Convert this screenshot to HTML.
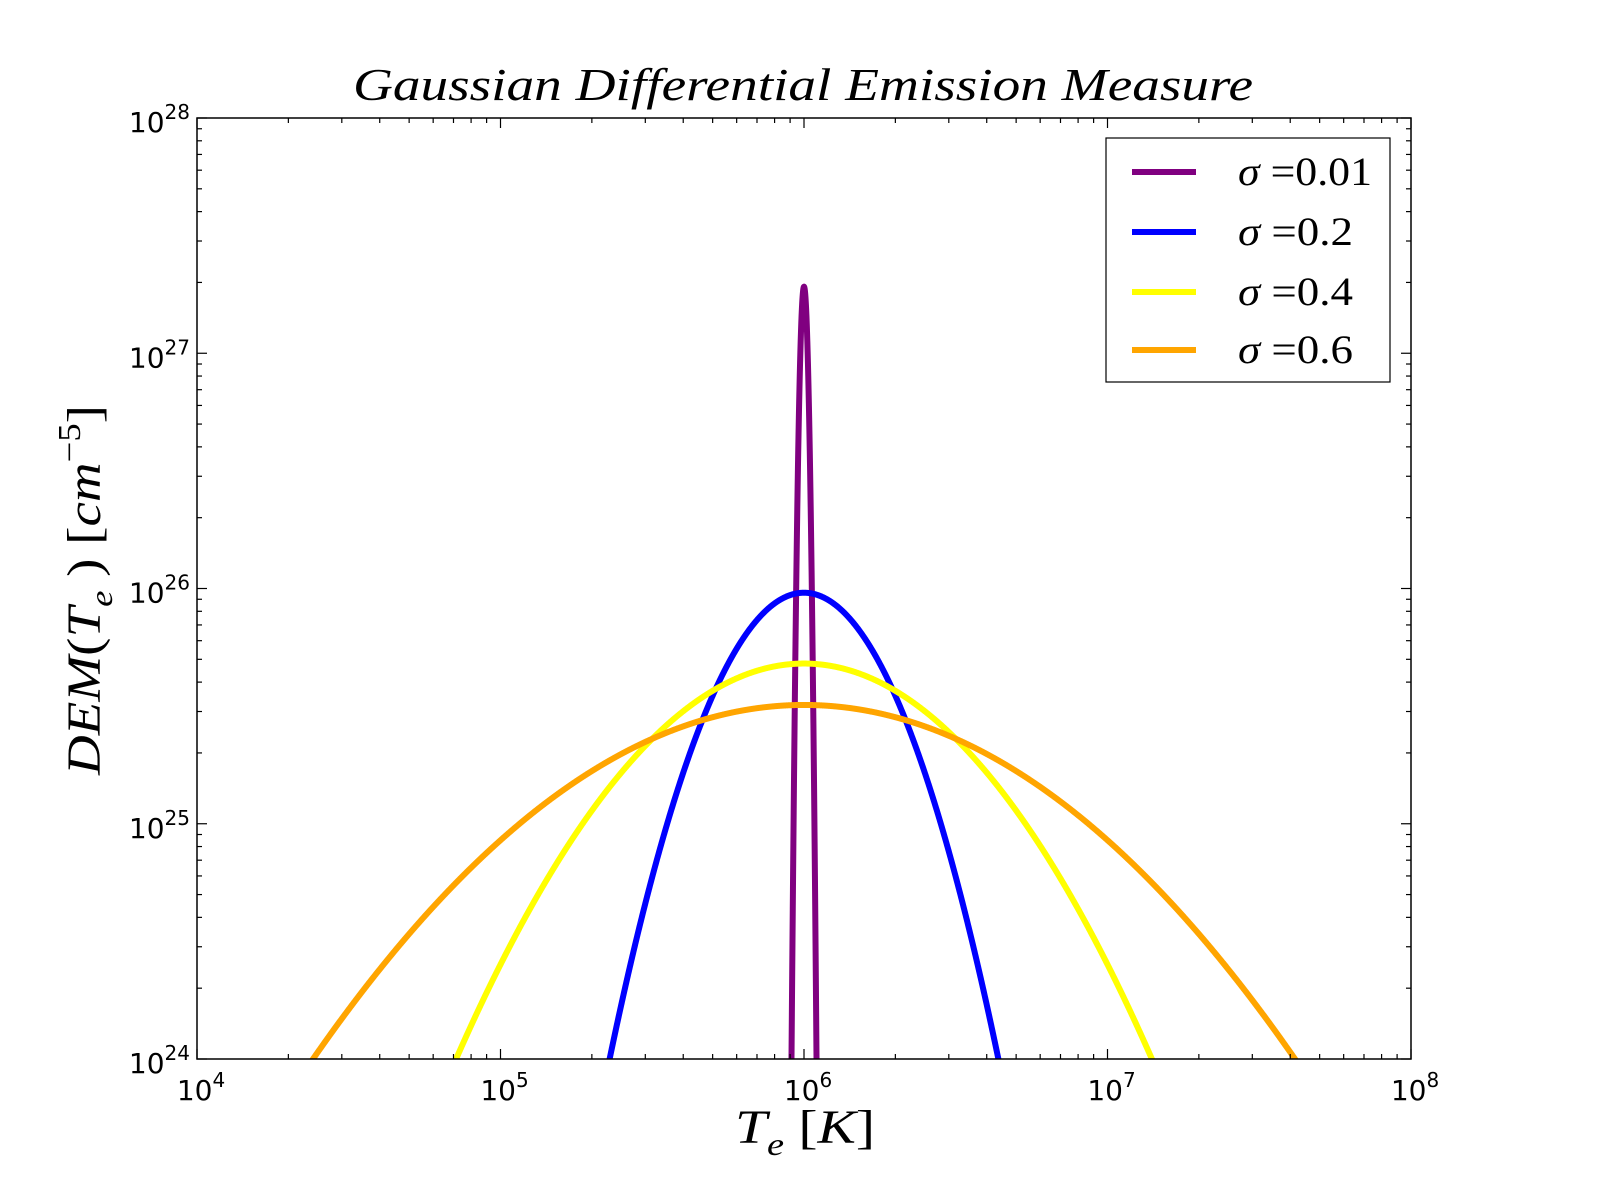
<!DOCTYPE html>
<html><head><meta charset="utf-8"><style>body{margin:0;background:#fff}svg{display:block}</style></head>
<body>
<svg id="s" xmlns="http://www.w3.org/2000/svg" width="1600" height="1201" viewBox="0 0 1600 1201">
<rect width="1600" height="1201" fill="#fff"/>
<defs><clipPath id="c"><rect x="197" y="118" width="1214" height="941"/></clipPath></defs>
<g id="curves" clip-path="url(#c)" fill="none" stroke-width="6" stroke-linejoin="round"></g>
<rect x="197" y="118" width="1214" height="941" fill="none" stroke="#000" stroke-width="1.5"/>
<g id="ticks" stroke="#000" stroke-width="1.2"></g>
<g font-family="DejaVu Sans, sans-serif" font-size="28" fill="#000" id="lab"></g>
<text x="353" y="100" textLength="900" lengthAdjust="spacingAndGlyphs" font-family="Liberation Serif, serif" font-style="italic" font-size="46">Gaussian Differential Emission Measure</text>
<text x="735" y="1143" textLength="140" lengthAdjust="spacingAndGlyphs" font-family="Liberation Serif, serif" font-size="48"><tspan font-style="italic">T</tspan><tspan font-style="italic" font-size="32" dy="12">e</tspan><tspan dy="-12">  [</tspan><tspan font-style="italic">K</tspan>]</text>
<text transform="translate(100,775) rotate(-90)" textLength="370" lengthAdjust="spacingAndGlyphs" font-family="Liberation Serif, serif" font-size="48"><tspan font-style="italic">DEM</tspan>(<tspan font-style="italic">T</tspan><tspan font-style="italic" font-size="32" dy="12">e</tspan><tspan dy="-12"> )  [</tspan><tspan font-style="italic">cm</tspan><tspan font-size="32" dy="-20">−5</tspan><tspan dy="20">]</tspan></text>
<rect x="1106" y="138" width="284" height="244" fill="#fff" stroke="#000" stroke-width="1.2"/>
<g stroke-width="6">
<line x1="1132" y1="172" x2="1196" y2="172" stroke="#800080"/>
<line x1="1132" y1="232" x2="1196" y2="232" stroke="#0000ff"/>
<line x1="1132" y1="292" x2="1196" y2="292" stroke="#ffff00"/>
<line x1="1132" y1="350" x2="1196" y2="350" stroke="#ffa500"/>
</g>
<g font-family="Liberation Serif, serif" font-size="40">
<text x="1238" y="185" textLength="134" lengthAdjust="spacingAndGlyphs"><tspan font-style="italic">σ</tspan> =0.01</text>
<text x="1238" y="245" textLength="115" lengthAdjust="spacingAndGlyphs"><tspan font-style="italic">σ</tspan> =0.2</text>
<text x="1238" y="305" textLength="115" lengthAdjust="spacingAndGlyphs"><tspan font-style="italic">σ</tspan> =0.4</text>
<text x="1238" y="363" textLength="115" lengthAdjust="spacingAndGlyphs"><tspan font-style="italic">σ</tspan> =0.6</text>
</g>
</svg>
<script>
var NS="http://www.w3.org/2000/svg";
function X(l){return 197+(l-4)*303.5}function Y(l){return 1059-(l-24)*235.25}
var series=[[0.0106,27.283,"#800080"],[0.212,25.982,"#0000ff"],[0.412,25.681,"#ffff00"],[0.6145,25.505,"#ffa500"]];
var g=document.getElementById("curves");
series.forEach(function(s){var d="";var n=4000;for(var i=0;i<=n;i++){var lx=4+4*i/n;var ly=s[1]-Math.pow(lx-6,2)/(2*s[0]*s[0])/Math.LN10;if(ly<23.9)ly=23.9;d+=(i?"L":"M")+X(lx).toFixed(2)+","+Y(ly).toFixed(2);}
var p=document.createElementNS(NS,"path");p.setAttribute("d",d);p.setAttribute("stroke",s[2]);g.appendChild(p);});
var t=document.getElementById("ticks"),lab=document.getElementById("lab");
function ln(a,b,c,d){var e=document.createElementNS(NS,"line");e.setAttribute("x1",a);e.setAttribute("y1",b);e.setAttribute("x2",c);e.setAttribute("y2",d);t.appendChild(e);}
function tx(x,y,base,exp,anchor){var e=document.createElementNS(NS,"text");e.setAttribute("x",x);e.setAttribute("y",y);e.setAttribute("text-anchor",anchor);e.innerHTML=base+'<tspan font-size="20" dy="-13">'+exp+'</tspan>';lab.appendChild(e);}
for(var k=4;k<=8;k++){var x=X(k);ln(x,1059,x,1049);ln(x,118,x,128);tx(x+4,1100,"10",k,"middle");
 if(k<8)for(var m=2;m<10;m++){var xm=X(k+Math.log10(m));ln(xm,1059,xm,1054);ln(xm,118,xm,123);}}
for(var k=24;k<=28;k++){var y=Y(k);ln(197,y,207,y);ln(1411,y,1401,y);tx(190,y+14,"10",k,"end");
 if(k<28)for(var m=2;m<10;m++){var ym=Y(k+Math.log10(m));ln(197,ym,202,ym);ln(1411,ym,1406,ym);}}
</script>
</body></html>
